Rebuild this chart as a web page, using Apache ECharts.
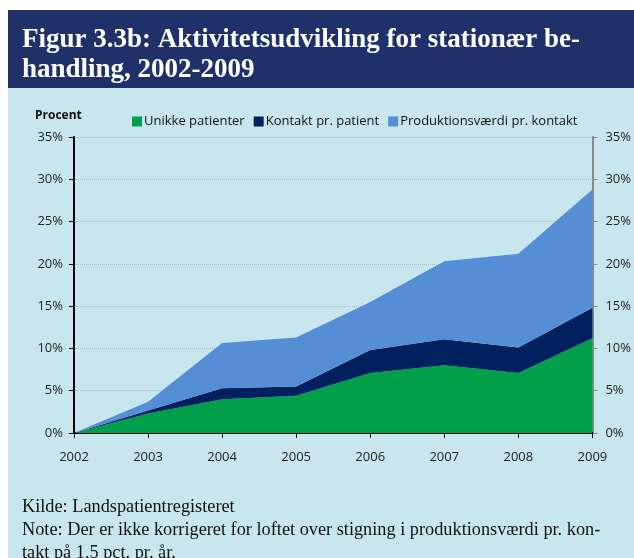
<!DOCTYPE html>
<html><head><meta charset="utf-8">
<script src="https://cdn.jsdelivr.net/npm/echarts@6/dist/echarts.min.js"></script>
<style>html,body{margin:0;padding:0;background:#fff}#c{width:634px;height:558px}</style>
</head><body><div id="c"></div>
<script>
const years = ['2002','2003','2004','2005','2006','2007','2008','2009'];
const unikkePatienter = [0, 2.3, 4.0, 4.4, 7.1, 8.0, 7.1, 11.2];
const kontaktPrPatient = [0, 0.35, 1.3, 1.1, 2.7, 3.1, 3.0, 3.6];
const produktionsvaerdi = [0, 1.05, 5.35, 5.8, 5.7, 9.2, 11.1, 14.0];
const seriesNames = ['Unikke patienter', 'Kontakt pr. patient', 'Produktionsværdi pr. kontakt'];
const colors = ['#00A04A', '#00215E', '#558ED5'];
const yTicks = [0, 5, 10, 15, 20, 25, 30, 35];

const chart = echarts.init(document.getElementById('c'), null, {renderer: 'canvas'});
const font = 'Open Sans';
const yAxisBase = {
  type: 'value', min: yTicks[0], max: yTicks[yTicks.length-1], interval: 5,
  axisLabel: {formatter: v => v + '%', color: '#222', fontFamily: font, fontSize: 13, margin: 11},
  axisTick: {show: true, length: 5},
};
chart.setOption({
  backgroundColor: '#fff',
  animation: false,
  graphic: [
    {type: 'rect', z: -10, shape: {x: 8, y: 88, width: 626, height: 470}, style: {fill: '#C8E6EE'}},
    {type: 'rect', z: -10, shape: {x: 8, y: 10, width: 626, height: 78}, style: {fill: '#1F3168'}},
    {type: 'text', left: 22, top: 25, style: {text: 'Figur 3.3b: Aktivitetsudvikling for stationær be-\nhandling, 2002-2009', fill: '#fff', font: 'bold 27px "Liberation Serif"', lineHeight: 30}},
    {type: 'text', left: 35, top: 110, style: {text: 'Procent', fill: '#111', font: 'bold 12px "Open Sans"'}},
    {type: 'text', left: 22, top: 496, style: {text: 'Kilde: Landspatientregisteret\nNote: Der er ikke korrigeret for loftet over stigning i produktionsværdi pr. kon-\ntakt på 1,5 pct. pr. år.', fill: '#111', font: '18.3px "Liberation Serif"', lineHeight: 23}}
  ],
  legend: {
    left: 127, top: 110, itemWidth: 10, itemHeight: 10, itemGap: 9, icon: 'rect',
    textStyle: {color: '#111', fontFamily: font, fontSize: 13, padding: [0,0,0,-3]},
    data: seriesNames
  },
  grid: {left: 74, right: 39, top: 137, bottom: 125, containLabel: false},
  xAxis: {
    type: 'category', data: years, boundaryGap: false,
    axisLine: {lineStyle: {color: '#000', width: 2}},
    axisTick: {show: true, length: 5, lineStyle: {color: '#000'}},
    axisLabel: {color: '#222', fontFamily: font, fontSize: 13, margin: 18},
    splitLine: {show: false}
  },
  yAxis: [
    Object.assign({}, yAxisBase, {
      position: 'left',
      axisLine: {show: true, lineStyle: {color: '#000', width: 2}},
      axisTick: {show: true, length: 5, lineStyle: {color: '#000'}},
      splitLine: {show: true, lineStyle: {color: '#B8B8B8', type: [1, 1], width: 1}}
    }),
    Object.assign({}, yAxisBase, {
      position: 'right',
      axisLine: {show: true, lineStyle: {color: '#888', width: 2}},
      axisTick: {show: true, length: 5, lineStyle: {color: '#888'}},
      axisLabel: Object.assign({}, yAxisBase.axisLabel, {margin: 13}),
      splitLine: {show: false}
    })
  ],
  series: [unikkePatienter, kontaktPrPatient, produktionsvaerdi].map((d, i) => ({
    name: seriesNames[i], type: 'line', stack: 'total', data: d,
    symbol: 'none', lineStyle: {width: 0}, itemStyle: {color: colors[i]},
    areaStyle: {color: colors[i], opacity: 1}, z: 2
  }))
});
</script></body></html>
